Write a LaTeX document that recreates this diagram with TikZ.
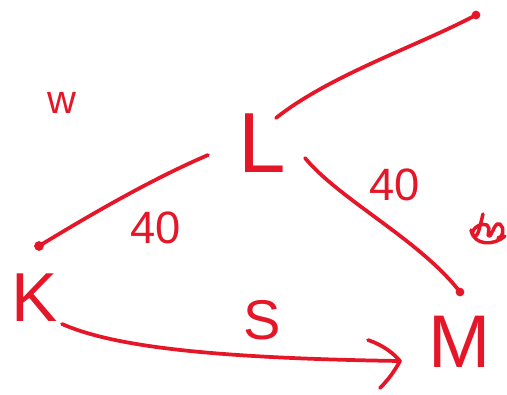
\documentclass[tikz,border=0pt]{standalone}
\usepackage{fontspec}
\setmainfont{Liberation Sans}
\definecolor{ink}{RGB}{228,22,40}
\begin{document}
\begin{tikzpicture}[x=0.75pt,y=-0.75pt,
  stroke/.style={draw=ink,line width=2.8pt,line cap=round,line join=round},
  lbl/.style={text=ink,inner sep=0pt,anchor=center},
  dotmark/.style={draw=ink,fill=ink,line width=1.2pt}]
\useasboundingbox (0,0) rectangle (507,394);
% labels
\node[lbl,font=\fontsize{30}{30}\selectfont] (w) at (62,103) {w};
\node[lbl,font=\fontsize{64}{64}\selectfont] (L) at (262,143) {L};
\node[lbl,font=\fontsize{34}{34}\selectfont] (fa) at (156,228) {40};
\node[lbl,font=\fontsize{34}{34}\selectfont] (fb) at (395,185) {40};
\node[lbl,font=\fontsize{52}{52}\selectfont] (K) at (35,298) {K};
\node[lbl,font=\fontsize{42}{42}\selectfont] (S) at (262,320) {S};
\node[lbl,font=\fontsize{56}{56}\selectfont] (M) at (460,342) {M};
% free ends
\coordinate (tr) at (476,15);
\coordinate (kd) at (39,246);
\coordinate (md) at (460,292);
\coordinate (la) at (276,118);
\coordinate (lb) at (208,155);
\coordinate (lc) at (305,158);
\coordinate (ks) at (62,324);
\coordinate (tip) at (400,361);
% connectors
\draw[stroke] (la) .. controls (330,75) and (420,45) .. (tr);
\draw[stroke] (lb) .. controls (150,180) and (90,215) .. (kd);
\draw[stroke] (lc) .. controls (340,200) and (420,240) .. (md);
\fill[dotmark] (tr) circle (3.5);
\fill[dotmark] (kd) circle (4);
\fill[dotmark] (md) circle (3.5);
\draw[stroke] (ks) .. controls (110,345) and (200,358) .. (tip);
\draw[stroke] (368,340) .. controls (385,346) and (394,354) .. (tip) .. controls (394,372) and (388,380) .. (380,388);
% scribble
\draw[stroke,line width=2.6pt] (483,214) .. controls (480,226) and (478,238) .. (474,236)
  .. controls (469,232) and (478,222) .. (487,225) .. controls (492,228) and (485,238) .. (490,236)
  .. controls (494,230) and (495,222) .. (500,224) .. controls (505,228) and (503,238) .. (498,238)
  (471,230) .. controls (474,246) and (494,246) .. (505,236);
\end{tikzpicture}
\end{document}
